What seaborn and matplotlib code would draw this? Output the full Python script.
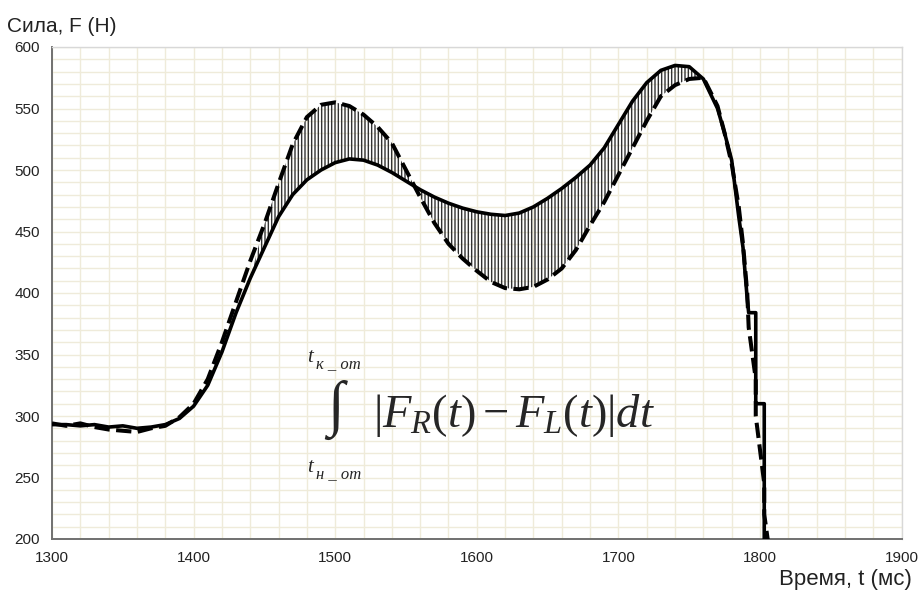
import numpy as np
import pandas as pd
import matplotlib
matplotlib.use("Agg")
import matplotlib.pyplot as plt
from matplotlib.ticker import MultipleLocator
import seaborn as sns

# ---- data ----
t_ms = [1300, 1310, 1320, 1330, 1340, 1350, 1360, 1370, 1380, 1390,
        1400, 1410, 1420, 1430, 1440, 1450, 1460, 1470, 1480, 1490,
        1500, 1510, 1520, 1530, 1540, 1550, 1560, 1570, 1580, 1590,
        1600, 1610, 1620, 1630, 1640, 1650, 1660, 1670, 1680, 1690,
        1700, 1710, 1720, 1730, 1740, 1750, 1760, 1770, 1775, 1780,
        1785, 1788, 1791, 1792, 1797, 1797, 1803, 1803, 1806]

f_solid = [293, 293, 292, 293, 291, 292, 290, 291, 293, 298,
           308, 325, 352, 384, 412, 437, 462, 480, 492, 500,
           506, 509, 508, 504, 498, 491, 484, 478, 473, 469,
           466, 464, 463, 465, 470, 477, 485, 494, 504, 518,
           537, 556, 571, 581, 585, 584, 574, 550, 530, 508,
           462, 437, 395, 384, 384, 310, 310, 195, 195]

f_dashed = [294, 292, 294, 291, 289, 288, 287, 290, 292, 299,
            310, 330, 360, 393, 426, 456, 489, 521, 543, 553,
            555, 552, 545, 535, 522, 500, 478, 457, 440, 428,
            418, 409, 404, 403, 405, 411, 420, 435, 455, 474,
            496, 518, 540, 560, 569, 574, 575, 552, 530, 505,
            470, 440, 400, 372, 330, 300, 245, 220, 195]

hatch_from, hatch_to = 1450, 1760

x_ticks = [1300, 1400, 1500, 1600, 1700, 1800, 1900]
y_ticks = [200, 250, 300, 350, 400, 450, 500, 550, 600]

df = pd.DataFrame({"t": t_ms, "solid": f_solid, "dashed": f_dashed})

sns.set_style("white")
plt.rcParams["font.family"] = ["Liberation Sans", "DejaVu Sans"]
plt.rcParams["mathtext.fontset"] = "custom"
plt.rcParams["mathtext.rm"] = "Liberation Serif"
plt.rcParams["mathtext.it"] = "Liberation Serif:italic"
plt.rcParams["hatch.linewidth"] = 1.0

W, H = 919, 597
fig = plt.figure(figsize=(W / 100, H / 100), dpi=100)
ax = fig.add_axes([52 / W, 1 - 539 / H, (901.6 - 52) / W, (539 - 47) / H])

# hatched area between the two curves
t_arr = df["t"].to_numpy()
mask = (t_arr >= hatch_from) & (t_arr <= hatch_to)
ax.fill_between(t_arr, df["solid"], df["dashed"], where=mask, interpolate=True,
                facecolor="none", edgecolor="#333333", hatch="|||||", linewidth=0,
                zorder=2)

sns.lineplot(data=df, x="t", y="dashed", ax=ax, color="black", lw=2.9,
             linestyle=(0, (3.8, 1.6)), sort=False, estimator=None, zorder=3)
sns.lineplot(data=df, x="t", y="solid", ax=ax, color="black", lw=2.6,
             sort=False, estimator=None, zorder=4)

ax.set_xlim(1300, 1900)
ax.set_ylim(200, 600)
ax.set_xticks(x_ticks)
ax.set_yticks(y_ticks)
ax.xaxis.set_minor_locator(MultipleLocator(20))
ax.yaxis.set_minor_locator(MultipleLocator(10))
ax.grid(which="both", color="#efebda", lw=1.0, zorder=0)
ax.set_axisbelow(True)
ax.tick_params(which="major", direction="inout", length=5, width=1,
               color="#707070", labelsize=11, labelcolor="#222222")
ax.tick_params(axis="y", pad=6)
ax.tick_params(axis="x", pad=6)
ax.tick_params(which="minor", length=0)
ax.set_xlabel("")
ax.set_ylabel("")
for side in ["left", "bottom"]:
    ax.spines[side].set_color("#707070")
    ax.spines[side].set_linewidth(1.4)
for side in ["top", "right"]:
    ax.spines[side].set_color("#d8d8d8")
    ax.spines[side].set_linewidth(1.0)


def px(x, y):
    return x / W, 1 - y / H


fig.text(*px(7, 27), "Сила, F (Н)", fontsize=15, va="center", ha="left", color="#222222")
fig.text(*px(912, 580), "Время, t (мс)", fontsize=16, va="center", ha="right", color="#222222")

# formula
serif = ["Liberation Serif", "DejaVu Serif"]
fig.text(*px(373, 427), r"$\left|F_R(t) - F_L(t)\right|dt$", fontsize=33.5, va="baseline", ha="left")
fig.text(*px(336, 410), "∫", fontsize=44, family=serif, va="center", ha="center")
fig.text(*px(307, 362), "t", fontsize=15, family=serif, style="italic", va="baseline")
fig.text(*px(316, 368), "к _ от", fontsize=12, family=serif, style="italic", va="baseline")
fig.text(*px(307, 472), "t", fontsize=15, family=serif, style="italic", va="baseline")
fig.text(*px(316, 478), "н _ от", fontsize=12, family=serif, style="italic", va="baseline")

fig.savefig("out.png", dpi=100)
